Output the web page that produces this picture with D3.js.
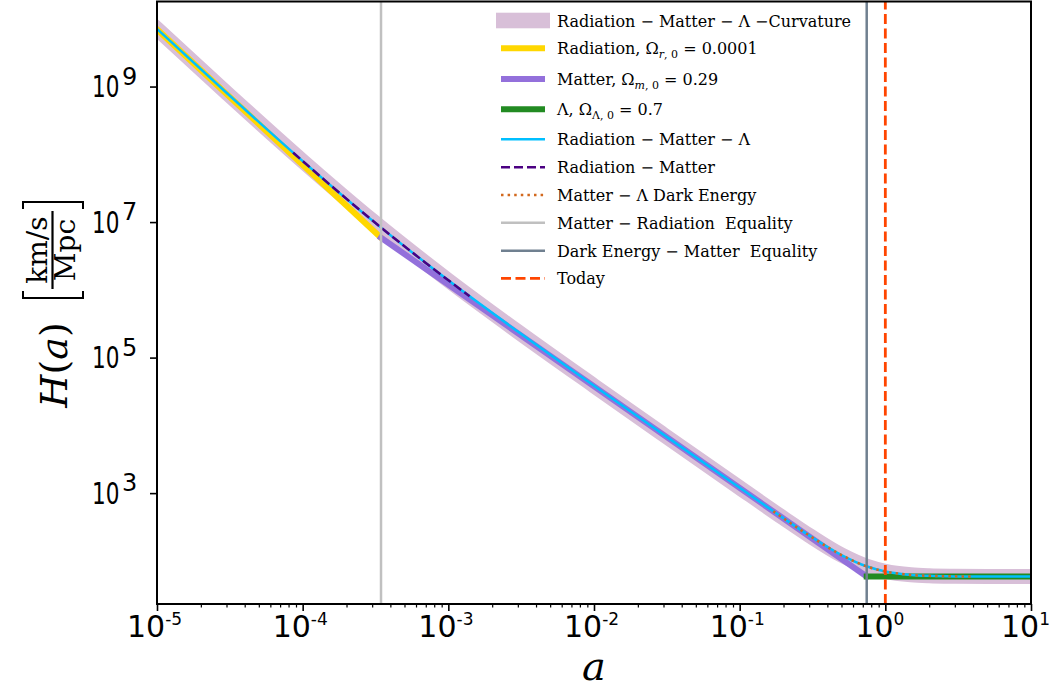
<!DOCTYPE html>
<html>
<head>
<meta charset="utf-8">
<script src="https://cdn.jsdelivr.net/npm/d3@7"></script>
<style>
  body { margin: 0; background: #fff; }
  svg { display: block; }
</style>
</head>
<body>
<svg id="chart" width="1060" height="691"></svg>
<script>
// values (a = scale factor, H in km/s/Mpc)
const aFull = [1e-5, 3e-5, 1e-4, 3e-4, 1e-3, 3e-3, 1e-2, 3e-2, 0.1, 0.2, 0.3, 0.5, 0.75, 1, 1.5, 2, 3, 5, 10];
const hCurv = [7.10e9, 8.11e8, 7.95e7, 1.06e7, 1.38e6, 2.42e5, 3.84e4, 7.31e3, 1.20e3, 428, 238, 122, 82.9, 70.0, 62.4, 60.3, 59.2, 58.7, 58.6];
const hRML  = [7.10e9, 8.11e8, 7.95e7, 1.06e7, 1.38e6, 2.42e5, 3.83e4, 7.30e3, 1.20e3, 426, 237, 122, 82.5, 69.7, 62.1, 60.1, 59.0, 58.7, 58.6];

const aRad = [1e-5, 3.45e-4];
const hRad = [7.0e9, 5.88e6];
const aMat = [3.45e-4, 0.745];
const hMat = [5.88e6, 58.6];
const aLam = [0.745, 10];
const hLam = [58.6, 58.6];

const aRM = [8.6e-5, 1.5e-4, 3.45e-4, 7e-4, 1.4e-3];
const hRM = [1.06e8, 3.73e7, 8.32e6, 2.49e6, 8.03e5];
const aML = [0.17, 0.3, 0.5, 0.75, 1, 1.5, 2, 4];
const hML = [541, 237, 122, 82.5, 69.7, 62.1, 60.1, 58.8];

const aEqRM = 3.45e-4;   // matter-radiation equality
const aEqDE = 0.745;     // dark energy-matter equality
const aToday = 1;

const xTickExp = [-5, -4, -3, -2, -1, 0, 1];
const yTickExp = [3, 5, 7, 9];

const legendLabels = [
  [['Radiation − Matter − Λ −Curvature']],
  [['Radiation, Ω'], ['r', 'subi'], [', 0', 'sub'], [' = 0.0001']],
  [['Matter, Ω'], ['m', 'subi'], [', 0', 'sub'], [' = 0.29']],
  [['Λ, Ω'], ['Λ, 0', 'sub'], [' = 0.7']],
  [['Radiation − Matter − Λ']],
  [['Radiation − Matter']],
  [['Matter − Λ Dark Energy']],
  [['Matter − Radiation  Equality']],
  [['Dark Energy − Matter  Equality']],
  [['Today']]
];

const svg = d3.select('#chart');
const L = 157, R = 1031, T = 1.5, B = 604;
const x = d3.scaleLog().domain([1e-5, 10]).range([L, R]);
const y = d3.scaleLog().domain([23.1, 1.8e10]).range([B, T]);

svg.append('defs').append('clipPath').attr('id', 'clip')
  .append('rect').attr('x', L).attr('y', T).attr('width', R - L).attr('height', B - T);

const plot = svg.append('g').attr('clip-path', 'url(#clip)');

const line = d3.line().x(d => x(d[0])).y(d => y(d[1])).curve(d3.curveMonotoneX);

function curve(as, hs, s) {
  plot.append('path')
    .datum(as.map((a, i) => [a, hs[i]]))
    .attr('d', line)
    .attr('fill', 'none')
    .attr('stroke', s.color)
    .attr('stroke-width', s.w)
    .attr('stroke-dasharray', s.dash || null)
    .attr('stroke-linecap', s.dash ? 'butt' : 'square')
    .attr('stroke-linejoin', 'round');
}

// series, in plotting order
const styles = [
  {color: '#d8bfd8', w: 15},
  {color: '#ffd700', w: 6},
  {color: '#9370db', w: 6},
  {color: '#228b22', w: 6},
  {color: '#00bfff', w: 2.5},
  {color: '#4b0082', w: 2.5, dash: '9,4'},
  {color: '#d2691e', w: 2.5, dash: '2.5,4.1'},
  {color: '#c0c0c0', w: 2.5},
  {color: '#708090', w: 2.5},
  {color: '#ff4500', w: 2.8, dash: '10,4.5'}
];

curve(aFull, hCurv, styles[0]);
curve(aRad, hRad, styles[1]);
curve(aMat, hMat, styles[2]);
curve(aLam, hLam, styles[3]);
curve(aFull, hRML, styles[4]);
curve(aRM, hRM, styles[5]);
curve(aML, hML, styles[6]);

[[aEqRM, styles[7]], [aEqDE, styles[8]], [aToday, styles[9]]].forEach(([a, s]) => {
  plot.append('line')
    .attr('x1', x(a)).attr('x2', x(a))
    .attr('y1', B).attr('y2', T)
    .attr('stroke', s.color).attr('stroke-width', s.w)
    .attr('stroke-dasharray', s.dash || null);
});

// Axes
const xMajor = xTickExp.map(e => Math.pow(10, e));
const xMinor = [];
xTickExp.slice(0, -1).forEach(e => {
  for (let k = 2; k <= 9; ++k) xMinor.push(k * Math.pow(10, e));
});
const yMajor = yTickExp.map(e => Math.pow(10, e));

function styleAxis(g, w) {
  g.select('.domain').remove();
  g.selectAll('line').attr('stroke', '#000').attr('stroke-width', w);
}

svg.append('g').attr('transform', `translate(0,${B})`)
  .call(d3.axisBottom(x).tickValues(xMinor).tickSize(3.5).tickFormat(''))
  .call(g => styleAxis(g, 1.2));
svg.append('g').attr('transform', `translate(0,${B})`)
  .call(d3.axisBottom(x).tickValues(xMajor).tickSize(7).tickFormat(''))
  .call(g => styleAxis(g, 1.6));
svg.append('g').attr('transform', `translate(${L},0)`)
  .call(d3.axisLeft(y).tickValues(yMajor).tickSize(7).tickFormat(''))
  .call(g => styleAxis(g, 1.6));

// frame
svg.append('rect')
  .attr('x', L).attr('y', T).attr('width', R - L).attr('height', B - T)
  .attr('fill', 'none').attr('stroke', '#000').attr('stroke-width', 2);

// tick labels
const tickFont = 'DejaVu Sans, sans-serif';
xTickExp.forEach(e => {
  const cx = x(Math.pow(10, e));
  const t = svg.append('text').attr('x', cx - 30).attr('y', 637)
    .attr('font-family', tickFont).attr('font-size', 30);
  t.append('tspan').text('10');
  t.append('tspan').attr('font-size', 17).attr('dy', -12)
    .text(e < 0 ? '-' + (-e) : String(e));
});
yTickExp.forEach(e => {
  const cy = y(Math.pow(10, e));
  // the y labels are narrower in the reference: squeeze the "10"
  svg.append('text').attr('transform', `translate(92,${cy + 10.7}) scale(0.72,1)`)
    .attr('font-family', tickFont).attr('font-size', 30)
    .text('10');
  svg.append('text').attr('x', 122).attr('y', cy - 2)
    .attr('font-family', tickFont).attr('font-size', 24)
    .text(String(e));
});

// axis titles
const serif = 'DejaVu Serif, serif';
svg.append('text').attr('x', (L + R) / 2).attr('y', 680)
  .attr('text-anchor', 'middle').attr('font-family', serif)
  .attr('font-style', 'italic').attr('font-size', 40).text('a');

const yt = svg.append('g').attr('transform', 'translate(53,365) rotate(-90)');
const ht = yt.append('text').attr('x', 0).attr('y', 14).attr('text-anchor', 'middle')
  .attr('font-family', serif).attr('font-size', 38);
ht.append('tspan').attr('font-style', 'italic').text('H');
ht.append('tspan').text('(');
ht.append('tspan').attr('font-style', 'italic').text('a');
ht.append('tspan').text(')');

yt.append('line').attr('x1', 76).attr('x2', 154).attr('y1', -0.5).attr('y2', -0.5)
  .attr('stroke', '#000').attr('stroke-width', 2.2);
yt.append('text').attr('x', 115).attr('y', -6).attr('text-anchor', 'middle')
  .attr('font-family', serif).attr('font-size', 28).text('km/s');
yt.append('text').attr('x', 115).attr('y', 22).attr('text-anchor', 'middle')
  .attr('font-family', serif).attr('font-size', 28).text('Mpc');
yt.append('path').attr('d', 'M74,-30 H67 V30 H74').attr('fill', 'none')
  .attr('stroke', '#000').attr('stroke-width', 2);
yt.append('path').attr('d', 'M156,-30 H163 V30 H156').attr('fill', 'none')
  .attr('stroke', '#000').attr('stroke-width', 2);

// legend
const rowY = [20.5, 48.3, 79, 109.3, 139.3, 167.3, 195, 222.7, 250.7, 278.3];
const lg = svg.append('g');
legendLabels.forEach((segs, i) => {
  const s = styles[i];
  const ry = rowY[i];
  if (i === 0) {
    lg.append('rect').attr('x', 496).attr('y', ry - 7.8).attr('width', 54).attr('height', 15.6)
      .attr('fill', s.color);
  } else {
    lg.append('line').attr('x1', 501).attr('x2', 545).attr('y1', ry).attr('y2', ry)
      .attr('stroke', s.color).attr('stroke-width', s.w)
      .attr('stroke-dasharray', s.dash || null);
  }
  const t = lg.append('text').attr('x', 557).attr('y', ry + 6)
    .attr('font-family', serif).attr('font-size', 16)
    .style('white-space', 'pre');
  let low = false;
  segs.forEach(([txt, kind]) => {
    const sp = t.append('tspan').text(txt);
    const sub = kind === 'sub' || kind === 'subi';
    if (sub) {
      sp.attr('font-size', 11);
      if (!low) sp.attr('dy', 4);
      if (kind === 'subi') sp.attr('font-style', 'italic');
    } else if (low) {
      sp.attr('dy', -4);
    }
    low = sub;
  });
});
</script>
</body>
</html>
